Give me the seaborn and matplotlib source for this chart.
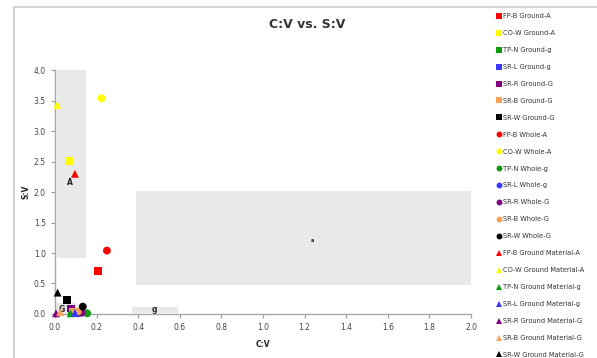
import matplotlib
matplotlib.use("Agg")
import matplotlib.pyplot as plt
import seaborn as sns
import pandas as pd
from matplotlib.patches import Rectangle

# sample names and colours
samples = ["FP-B", "CO-W", "TP-N", "SR-L", "SR-R", "SR-B", "SR-W"]
grades = ["A", "A", "g", "g", "G", "G", "G"]
colors = ["#ff0000", "#ffff00", "#109a10", "#3a3aff", "#800080", "#f9a35a", "#000000"]

# C:V and S:V values
ground_cv = [0.205, 0.067, 0.08, 0.09, 0.078, 0.085, 0.058]
ground_sv = [0.70, 2.51, 0.01, 0.01, 0.09, 0.03, 0.23]
whole_cv = [0.25, 0.224, 0.155, 0.11, 0.128, 0.11, 0.134]
whole_sv = [1.04, 3.54, 0.01, 0.01, 0.02, 0.04, 0.12]
material_cv = [0.096, 0.011, 0.075, 0.096, 0.005, 0.025, 0.013]
material_sv = [2.30, 3.43, 0.01, 0.02, 0.01, 0.03, 0.35]

# shaded regions: (x0, x1, y0, y1, label, label_x, label_y)
regions = [
    (0.01, 0.15, 0.92, 4.05, "A", 0.07, 2.15),
    (0.39, 2.0, 0.48, 2.02, "a", 1.24, 1.21),
    (0.37, 0.59, 0.02, 0.12, "g", 0.48, 0.07),
    (0.0, 0.10, 0.0, 0.18, "G", 0.035, 0.08),
]

rows = []
palette = {}
markers = {}
for kind, mk, xs, ys in [("Ground", "s", ground_cv, ground_sv),
                         ("Whole", "o", whole_cv, whole_sv),
                         ("Ground Material", "^", material_cv, material_sv)]:
    for i, s in enumerate(samples):
        name = f"{s} {kind}-{grades[i]}"
        rows.append({"series": name, "C:V": xs[i], "S:V": ys[i]})
        palette[name] = colors[i]
        markers[name] = mk
df = pd.DataFrame(rows)

sns.set_theme(style="white")
plt.rcParams["font.family"] = ["DejaVu Sans"]

fig = plt.figure(figsize=(5.97, 3.58), dpi=100)
ax = fig.add_axes([0.092, 0.123, 0.697, 0.681])

for x0, x1, y0, y1, lab, lx, ly in regions:
    ax.add_patch(Rectangle((x0, y0), x1 - x0, y1 - y0, facecolor="#e9e9e9",
                           edgecolor="none", zorder=0))
    fs = 3.5 if lab == "a" else 5.5
    ax.text(lx, ly, lab, fontsize=fs, fontweight="bold", ha="center",
            va="center", color="#222222", zorder=1)

sns.scatterplot(data=df, x="C:V", y="S:V", hue="series", style="series",
                palette=palette, markers=markers, s=32, linewidth=0,
                ax=ax, zorder=3, clip_on=False)

ax.set_xlim(0, 2.0)
ax.set_ylim(0, 4.0)
ax.set_xticks([i * 0.2 for i in range(11)])
ax.set_yticks([i * 0.5 for i in range(9)])
ax.xaxis.set_major_formatter(matplotlib.ticker.FormatStrFormatter("%.1f"))
ax.yaxis.set_major_formatter(matplotlib.ticker.FormatStrFormatter("%.1f"))
ax.tick_params(axis="both", labelsize=5.5, colors="#9a9a9a", labelcolor="#444444",
               length=3, width=0.8, direction="out", bottom=True, left=True)
for side in ["top", "right"]:
    ax.spines[side].set_visible(False)
for side in ["left", "bottom"]:
    ax.spines[side].set_color("#a8a8a8")
    ax.spines[side].set_linewidth(1.0)

fig.text(307 / 597, 1 - 24 / 358, "C:V vs. S:V", fontsize=9, fontweight="bold",
         color="#333333", ha="center", va="center")
ax.set_xlabel("C:V", fontsize=5.5, fontweight="bold", color="#222222", labelpad=6)
ax.set_ylabel("S:V", fontsize=5.5, fontweight="bold", color="#222222", labelpad=2)

leg = ax.legend(loc="upper left", bbox_to_anchor=(1.054, 1.245), frameon=False,
                fontsize=4.8, labelspacing=1.64, handletextpad=0.2,
                handlelength=0.8, markerscale=0.75, borderaxespad=0)
for t in leg.get_texts():
    t.set_color("#333333")

# outer chart border
fig.add_artist(Rectangle((14 / 597, -0.1), 1.2, 1.1 - 7 / 358,
                         transform=fig.transFigure, facecolor="none",
                         edgecolor="#d4d4d4", linewidth=1.5))

fig.savefig("out.png", dpi=100)
